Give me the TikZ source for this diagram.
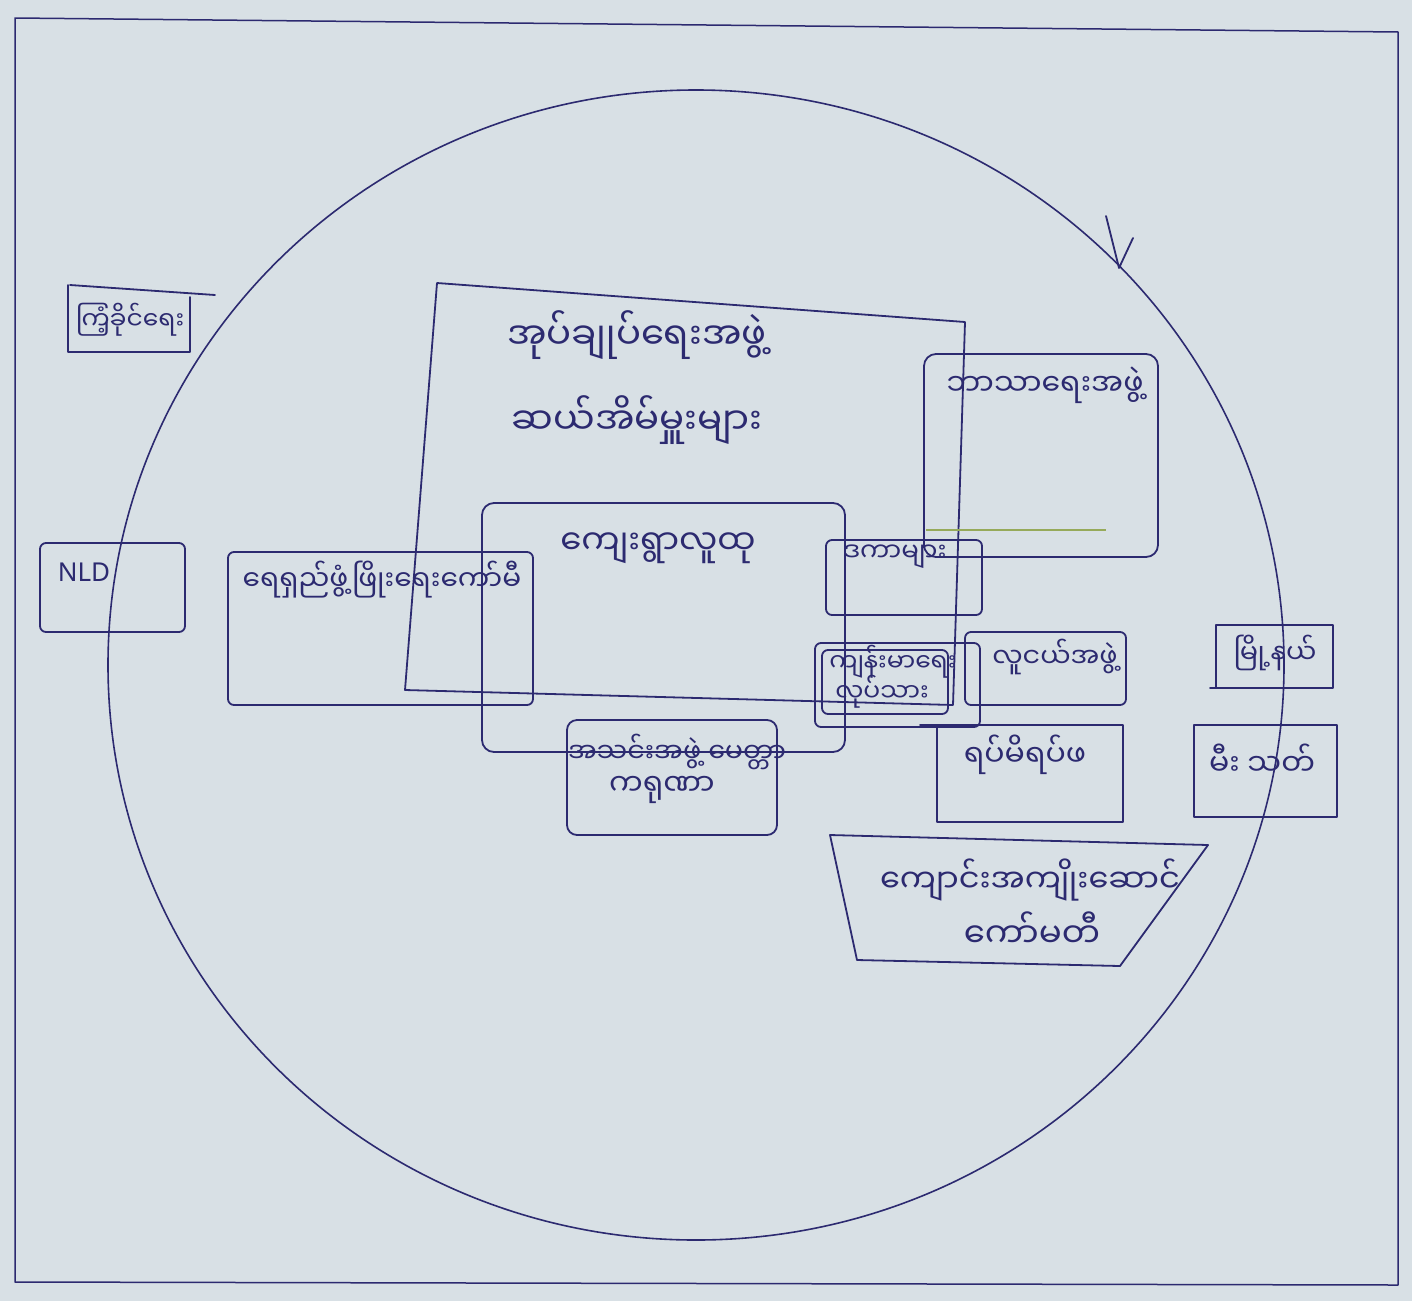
\documentclass[tikz,border=0pt]{standalone}
\usepackage{fontspec}
\newfontfamily\mmfont[Script=Myanmar]{Noto Sans Myanmar UI}
\setmainfont{Noto Sans}
\definecolor{paper}{RGB}{216,224,229}
\definecolor{ink}{RGB}{44,42,112}
\definecolor{pencil}{RGB}{150,170,90}
\tikzset{
  inkline/.style={draw=ink, line width=1.8pt, line join=round, line cap=round},
  box/.style={inkline, rounded corners=6pt},
  grouptext/.style={text=ink, font=\mmfont\fontsize{#1}{#1}\selectfont, inner sep=0pt},
  grouptext/.default=26,
}
\begin{document}
\begin{tikzpicture}[x=1pt, y=-1pt]

  % -- Paper --
  \fill[paper] (0,0) rectangle (1412,1301);
  \useasboundingbox (0,0) rectangle (1412,1301);

  % -- Sheet frame --
  \draw[inkline, line width=1.5pt] (15,18) -- (1398,32) -- (1398,1285) -- (15,1282) -- cycle;

  % -- Community circle --
  \draw[inkline, line width=1.6pt] (696,665) ellipse [x radius=588, y radius=575];
  \draw[inkline] (1106,216) -- (1119,268) -- (1133,238);

  % -- Outside: party and services --
  \draw[inkline] (68,285) -- (68,352) -- (190,352) -- (190,297);
  \draw[inkline] (70,285) -- (215,295);
  \node[grouptext=25] (usdp) at (130,320) {ကြံ့ခိုင်ရေး};

  \draw[box] (40,543) rectangle (185,632);
  \node[grouptext=26, font=\fontsize{26}{26}\selectfont] (nld) at (84,572) {NLD};

  \draw[inkline] (1216,625) rectangle (1333,688);
  \draw[inkline] (1210,688) -- (1216,688);
  \node[grouptext=27] (myo) at (1275,653) {မြို့နယ်};

  \draw[inkline] (1194,725) rectangle (1337,817);
  \node[grouptext=30] (fire) at (1262,760) {မီး သတ်};

  % -- Administration --
  \draw[inkline] (437,283) -- (965,322) -- (953,705) -- (405,690) -- cycle;
  \node[grouptext=37] (admin) at (637,335) {အုပ်ချုပ်ရေးအဖွဲ့};
  \node[grouptext=37] (tenhh) at (637,420) {ဆယ်အိမ်မှူးများ};

  % -- Religion --
  \draw[box, rounded corners=12pt] (924,354) rectangle (1158,557);
  \draw[pencil, line width=1.2pt] (926,530) -- (1106,530);
  \node[grouptext=30] (relig) at (1045,385) {ဘာသာရေးအဖွဲ့};

  % -- Village --
  \draw[box, rounded corners=12pt] (482,503) rectangle (845,752);
  \node[grouptext=34] (village) at (658,548) {ကျေးရွာလူထု};

  \draw[box] (228,552) rectangle (533,705);
  \node[grouptext=28] (water) at (382,580) {ရေရှည်ဖွံ့ဖြိုးရေးကော်မီ};

  % -- Right-hand groups --
  \draw[box] (826,540) rectangle (982,615);
  \node[grouptext=26] (donor) at (895,557) {ဒကာများ};

  \draw[box] (815,643) rectangle (980,727);
  \draw[box] (822,650) rectangle (948,714);
  \node[grouptext=25] (health) at (893,662) {ကျန်းမာရေး};
  \node[grouptext=25] (worker) at (882,692) {လုပ်သား};

  \draw[box] (965,632) rectangle (1126,705);
  \node[grouptext=27] (youth) at (1055,657) {လူငယ်အဖွဲ့};

  \draw[inkline] (920,725) -- (1123,725) -- (1123,822) -- (937,822) -- (937,725);
  \node[grouptext=30] (elder) at (1025,755) {ရပ်မိရပ်ဖ};

  % -- Lower groups --
  \draw[box, rounded corners=10pt] (567,720) rectangle (777,835);
  \node[grouptext=27] (merci) at (677,752) {အသင်းအဖွဲ့ မေတ္တာ};
  \node[grouptext=30] (karuna) at (662,790) {ကရုဏာ};

  \draw[inkline] (830,835) -- (1208,845) -- (1120,966) -- (857,960) -- cycle;
  \node[grouptext=32] (school) at (1030,880) {ကျောင်းအကျိုးဆောင်};
  \node[grouptext=34] (comm) at (1032,930) {ကော်မတီ};

\end{tikzpicture}
\end{document}
